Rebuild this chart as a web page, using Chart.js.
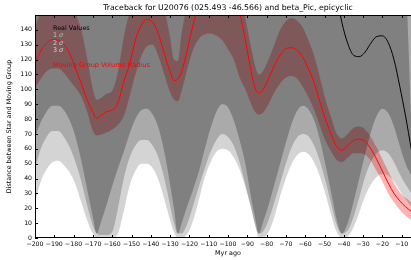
<!DOCTYPE html>
<html>
<head>
<meta charset="utf-8">
<title>Traceback U20076</title>
<script src="https://cdn.jsdelivr.net/npm/chart.js@4.4.1/dist/chart.umd.min.js"></script>
<style>
  html, body { margin: 0; padding: 0; background: #fff; overflow: hidden; }
  #quadro { width: 411px; height: 260px; overflow: hidden; }
  canvas { display: block; }
</style>
</head>
<body>
<div id="quadro"><canvas id="traceback" width="423" height="260"></canvas></div>
<script>
/* ── Dados ───────────────────────────────────────────────────── */

/** Tempo em Myr (eixo x, compartilhado por todas as séries) */
const myrAgo = [
  -200, -197, -194, -191, -188, -185, -182, -179, -176, -173, -170, -168,
  -166, -163, -160, -157, -154, -151, -148, -145, -142, -139, -136, -133, -130, -128, -126,
  -124, -121, -118, -115, -112, -109, -106, -103, -100, -97, -94, -91, -88, -86, -84,
  -82, -79, -76, -73, -70, -67, -64, -61, -58, -55, -52, -49, -46, -44, -41,
  -38, -35, -32, -29, -26, -23, -20, -17, -14, -11, -8, -5
];

/** Limite inferior da faixa 1 sigma (cinza escuro) */
const sigma1Low = [
  68, 78, 85, 89, 89, 86, 79, 68, 52, 33, 14, 3,
  10, 22, 35, 47, 58, 70, 80, 86, 87, 83, 74, 58, 36, 20, 3,
  10, 22, 33, 45, 60, 74, 85, 90, 88, 79, 66, 50, 27, 14, 3,
  10, 22, 36, 50, 64, 77, 86, 89, 86, 78, 64, 46, 27, 14, 3,
  10, 24, 40, 56, 71, 82, 87, 84, 75, 62, 50, 42
];

/** Limite superior da faixa 1 sigma (só aparece na borda direita) */
const sigma1High = [
  200, 200, 200, 200, 200, 200, 200, 200, 200, 200, 200, 200,
  200, 200, 200, 200, 200, 200, 200, 200, 200, 200, 200, 200, 200, 200, 200,
  200, 200, 200, 200, 200, 200, 200, 200, 200, 200, 200, 200, 200, 200, 200,
  200, 200, 200, 200, 200, 200, 200, 200, 200, 200, 200, 200, 200, 200, 200,
  200, 200, 200, 200, 200, 200, 200, 200, 200, 200, 175, 75
];

/** Limite inferior da faixa 2 sigma */
const sigma2Low = [
  47, 60, 68, 72, 72, 68, 61, 51, 38, 22, 8, 3,
  2, 2, 4, 20, 40, 54, 62, 66, 66, 62, 54, 40, 22, 10, 3,
  3, 10, 22, 35, 47, 58, 66, 70, 68, 62, 51, 36, 20, 9, 3,
  4, 12, 24, 37, 50, 61, 68, 70, 68, 61, 50, 36, 20, 10, 3,
  5, 14, 27, 41, 51, 57, 59, 57, 51, 43, 36, 30
];

/** Limite inferior da faixa 3 sigma (topo da área branca) */
const sigma3Low = [
  24, 38, 46, 51, 52, 49, 44, 36, 24, 12, 3, 0,
  0, 0, 0, 3, 18, 35, 45, 50, 50, 47, 39, 26, 12, 4, 0,
  0, 3, 12, 26, 41, 51, 58, 60, 59, 54, 46, 34, 20, 9, 0,
  0, 4, 14, 28, 40, 50, 56, 58, 56, 50, 40, 27, 13, 5, 0,
  1, 7, 17, 28, 36, 41, 43, 42, 38, 32, 26, 21
];

/** Linha vermelha: raio do volume do grupo */
const groupRadius = [
  117, 126, 131, 133.5, 133, 130, 124, 114, 104, 93, 84.5, 80.5,
  82, 85, 86, 91, 105, 117, 133, 143, 147, 145, 137, 124, 112, 106, 107,
  112, 127, 144, 158, 167, 172, 174, 173, 170, 165, 152, 133, 112, 101, 97.5,
  99.5, 107, 116, 123, 127.5, 128, 126, 121, 113, 103, 90, 78, 68, 62, 59,
  62, 65.5, 66.5, 65, 60, 53, 45, 37, 30, 25, 21, 18
];

/** Faixa vermelha: limites inferior e superior */
const radiusLow = [
  101, 107, 112, 114, 114, 111, 106, 101, 95, 85, 72, 69,
  69.5, 71, 73, 76, 82, 95, 110, 122, 129, 130, 122, 110, 98, 93, 92,
  99, 114, 127, 134, 137, 137.5, 136, 133, 127, 120, 108, 100, 90, 85, 83,
  84, 90, 98, 104, 108, 109, 107, 101, 94, 85, 74, 64, 57, 53, 51,
  54, 57, 57, 56, 52, 45, 38, 30, 24, 19, 15, 12
];
const radiusHigh = [
  142, 152, 158, 160, 160, 158, 157, 151, 140, 121, 100, 93,
  94, 97, 99, 112, 135, 152, 162, 166, 168, 167, 165, 154, 135, 120, 119,
  138, 158, 172, 182, 188, 190, 190, 188, 183, 175, 165, 148, 128, 116, 110,
  112, 120, 130, 140, 146, 148, 146, 141, 132, 121, 106, 91, 79, 71, 67,
  70, 74, 75, 73, 68, 61, 53, 45, 37, 31, 27, 24
];

/** Linha preta: valores reais */
const realValues = [
  null, null, null, null, null, null, null, null, null, null, null, null,
  null, null, null, null, null, null, null, null, null, null, null, null, null, null, null,
  null, null, null, null, null, null, null, null, null, null, null, null, null, null, null,
  null, null, null, null, null, null, null, null, null, null, null, null, null, 165, 145,
  131, 123, 122, 125, 131, 135.5, 136, 131.5, 120, 102, 82, 59.5
];

/** Marcas dos eixos */
const xTicks = [-200, -190, -180, -170, -160, -150, -140, -130, -120, -110, -100,
                -90, -80, -70, -60, -50, -40, -30, -20, -10];
const yTicks = [0, 10, 20, 30, 40, 50, 60, 70, 80, 90, 100, 110, 120, 130, 140];

const titulo = 'Traceback for U20076 (025.493 -46.566) and beta_Pic, epicyclic';
const tituloX = 'Myr ago';
const tituloY = 'Distance between Star and Moving Group';
const legendaSigma = ['1', '2', '3'];

/* ── Auxiliares ──────────────────────────────────────────────── */

const FONTE = '"DejaVu Sans", sans-serif';

/** Junta os valores de uma série com o eixo x compartilhado */
function pontos(valores) {
  return myrAgo.map((x, i) => ({ x, y: valores[i] }));
}

/** Formata número com sinal de menos tipográfico */
function formatarTick(v) {
  return v < 0 ? '\u2212' + Math.abs(v) : String(v);
}

/** Linha invisível usada só como limite de preenchimento */
function limite(valores, extra) {
  return Object.assign({
    data: pontos(valores),
    borderWidth: 0,
    pointRadius: 0,
    fill: false,
    cubicInterpolationMode: 'monotone',
  }, extra);
}

/* ── Plugin: moldura, marcas internas e textos ───────────────── */

const decoracao = {
  id: 'decoracao',
  afterDatasetsDraw(chart) {
    const { ctx, chartArea: a, scales: { x, y } } = chart;
    ctx.save();

    ctx.strokeStyle = '#000';
    ctx.lineWidth = 1;
    ctx.strokeRect(a.left + 0.5, a.top + 0.5, a.right - a.left - 1, a.bottom - a.top - 1);

    // marcas para dentro, estilo matplotlib
    ctx.beginPath();
    xTicks.forEach(v => {
      const px = Math.round(x.getPixelForValue(v)) + 0.5;
      ctx.moveTo(px, a.bottom); ctx.lineTo(px, a.bottom - 3);
      ctx.moveTo(px, a.top);    ctx.lineTo(px, a.top + 3);
    });
    yTicks.forEach(v => {
      const py = Math.round(y.getPixelForValue(v)) + 0.5;
      ctx.moveTo(a.left, py);  ctx.lineTo(a.left + 3, py);
      ctx.moveTo(a.right, py); ctx.lineTo(a.right - 3, py);
    });
    ctx.stroke();

    // legenda (só texto)
    ctx.textBaseline = 'middle';
    ctx.textAlign = 'left';
    ctx.font = `6.4px ${FONTE}`;
    ctx.fillStyle = '#000';
    ctx.fillText('Real Values', 53, 28.5);

    const coresSigma = ['#bdbdbd', '#cecece', '#dadada'];
    const ySigma = [35.5, 43, 50.5];
    legendaSigma.forEach((n, i) => {
      ctx.fillStyle = coresSigma[i];
      ctx.font = `6.4px ${FONTE}`;
      ctx.fillText(n + ' ', 53, ySigma[i]);
      const w = ctx.measureText(n + ' ').width;
      ctx.font = `italic 6.4px ${FONTE}`;
      ctx.fillText('\u03c3', 53 + w, ySigma[i]);
    });

    ctx.font = `6.6px ${FONTE}`;
    ctx.fillStyle = '#f00';
    ctx.fillText('Moving Group Volume Radius', 53, 65.5);

    // títulos
    const cx = (a.left + a.right) / 2;
    ctx.fillStyle = '#000';
    ctx.textAlign = 'center';
    ctx.font = `7.8px ${FONTE}`;
    ctx.fillText(titulo, cx, 8);
    ctx.font = `6.4px ${FONTE}`;
    ctx.fillText(tituloX, cx, 253);
    ctx.translate(9, (a.top + a.bottom) / 2);
    ctx.rotate(-Math.PI / 2);
    ctx.fillText(tituloY, 0, 0);

    ctx.restore();
  }
};

/* ── Gráfico ─────────────────────────────────────────────────── */

const datasets = [
  // 0: valores reais (preto)
  { data: pontos(realValues), borderColor: '#000', borderWidth: 1, pointRadius: 0,
    fill: false, cubicInterpolationMode: 'monotone', spanGaps: false, order: 1 },
  // 1: raio do grupo (vermelho)
  { data: pontos(groupRadius), borderColor: '#ff0000', borderWidth: 1, pointRadius: 0,
    fill: false, cubicInterpolationMode: 'monotone', order: 1 },
  // 2-3: faixa 1 sigma
  limite(sigma1Low, { fill: 3, backgroundColor: 'rgba(0,0,0,0.25)', order: 7 }),
  limite(sigma1High, { order: 7 }),
  // 4: faixa 2 sigma
  limite(sigma2Low, { fill: 'end', backgroundColor: 'rgba(0,0,0,0.2)', order: 8 }),
  // 5: faixa 3 sigma
  limite(sigma3Low, { fill: 'end', backgroundColor: 'rgba(0,0,0,0.17)', order: 9 }),
  // 6-7: faixa vermelha (desenhada por baixo dos cinzas)
  limite(radiusLow, { order: 10 }),
  limite(radiusHigh, { fill: 6, backgroundColor: 'rgba(255,0,0,0.3)', order: 10 }),
];

new Chart(document.getElementById('traceback'), {
  type: 'line',
  data: { datasets },
  options: {
    responsive: false,
    devicePixelRatio: 1,
    animation: false,
    layout: { padding: { top: 15, right: 2, left: 0, bottom: 0 } },
    plugins: {
      legend: { display: false },
      tooltip: { enabled: false },
      title: { display: false },
    },
    scales: {
      x: {
        type: 'linear',
        min: -200,
        max: 0,
        grid: { display: false, drawTicks: false },
        border: { display: false },
        afterBuildTicks: s => { s.ticks = xTicks.map(v => ({ value: v })); },
        afterFit: s => { s.height = 22; },
        ticks: {
          autoSkip: false,
          maxRotation: 0,
          padding: 3,
          color: '#000',
          font: { family: FONTE, size: 6.2 },
          callback: v => formatarTick(v),
        },
      },
      y: {
        type: 'linear',
        min: 0,
        max: 150,
        grid: { display: false, drawTicks: false },
        border: { display: false },
        afterBuildTicks: s => { s.ticks = yTicks.map(v => ({ value: v })); },
        afterFit: s => { s.width = 35; },
        ticks: {
          padding: 3,
          color: '#000',
          font: { family: FONTE, size: 6.2 },
          callback: v => formatarTick(v),
        },
      },
    },
  },
  plugins: [decoracao],
});
</script>
</body>
</html>
